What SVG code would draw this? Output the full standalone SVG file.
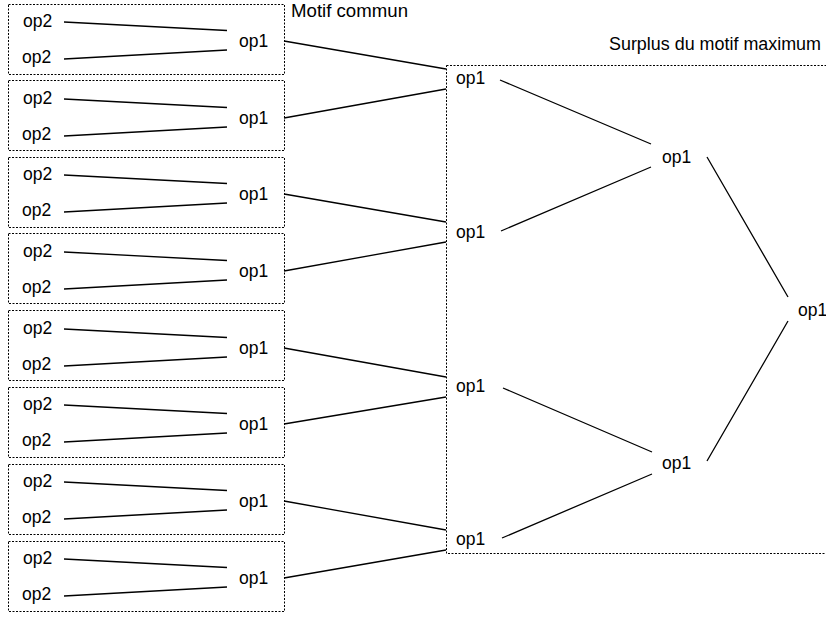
<svg xmlns="http://www.w3.org/2000/svg" width="826" height="617" viewBox="0 0 826 617">
  <style>
    text { font-family: "Liberation Sans", Arial, sans-serif; font-size: 17.5px; fill: #000; }
    .cluster { fill: none; stroke: #000; stroke-width: 1; stroke-dasharray: 2 1.5; }
    .edge { stroke: #000; stroke-width: 1.3; fill: none; }
  </style>
  <rect x="0" y="0" width="826" height="617" fill="#fff"/>

  <!-- dashed frames -->
  <g id="clusters">
    <rect class="cluster" x="8.5" y="4.5" width="276" height="70"/>
    <rect class="cluster" x="8.5" y="80.5" width="276" height="70"/>
    <rect class="cluster" x="8.5" y="157.5" width="276" height="70"/>
    <rect class="cluster" x="8.5" y="233.5" width="276" height="70"/>
    <rect class="cluster" x="8.5" y="310.5" width="276" height="70"/>
    <rect class="cluster" x="8.5" y="387.5" width="276" height="70"/>
    <rect class="cluster" x="8.5" y="464.5" width="276" height="70"/>
    <rect class="cluster" x="8.5" y="541.5" width="276" height="70"/>
    <rect class="cluster" x="446.5" y="65.5" width="400" height="488"/>
  </g>
  <g id="cluster-labels">
    <text x="291" y="17" textLength="117" lengthAdjust="spacingAndGlyphs">Motif commun</text>
    <text x="609" y="50" textLength="212" lengthAdjust="spacingAndGlyphs">Surplus du motif maximum</text>
  </g>

  <!-- connectors -->
  <g id="edges">
    <!-- op2 -> op1 inside each frame -->
    <path class="edge" d="M64 22 L227 30.5 M64 59 L227 50"/>
    <path class="edge" d="M64 99 L227 107.5 M64 136 L227 127"/>
    <path class="edge" d="M64 175 L227 183.5 M64 212 L227 203"/>
    <path class="edge" d="M64 252 L227 260.5 M64 289 L227 280"/>
    <path class="edge" d="M64 329 L227 337.5 M64 366 L227 357"/>
    <path class="edge" d="M64 405 L227 413.5 M64 442 L227 433"/>
    <path class="edge" d="M64 482 L227 490.5 M64 519 L227 510"/>
    <path class="edge" d="M64 559 L227 567.5 M64 596 L227 587"/>
    <!-- frame op1 -> middle op1 -->
    <path class="edge" d="M284 41 L446 69 M284 118 L446 89"/>
    <path class="edge" d="M284 194 L446 222 M284 271 L446 242"/>
    <path class="edge" d="M284 348 L446 377 M284 424 L446 397"/>
    <path class="edge" d="M284 501 L446 530 M284 578 L446 550"/>
    <!-- middle op1 -> second level op1 -->
    <path class="edge" d="M500 80 L651 144 M501 231 L651 167"/>
    <path class="edge" d="M503 388 L652 452 M502 538 L652 474"/>
    <!-- second level -> root -->
    <path class="edge" d="M707 157 L788 297 M707 461 L788 321"/>
  </g>

  <!-- frame nodes -->
  <g id="f1-a"><text x="23" y="27">op2</text></g>
  <g id="f1-b"><text x="22" y="63">op2</text></g>
  <g id="f1-op1"><text x="239" y="47">op1</text></g>
  <g id="f2-a"><text x="23" y="104">op2</text></g>
  <g id="f2-b"><text x="22" y="140">op2</text></g>
  <g id="f2-op1"><text x="239" y="124">op1</text></g>
  <g id="f3-a"><text x="23" y="180">op2</text></g>
  <g id="f3-b"><text x="22" y="216">op2</text></g>
  <g id="f3-op1"><text x="239" y="200">op1</text></g>
  <g id="f4-a"><text x="23" y="257">op2</text></g>
  <g id="f4-b"><text x="22" y="293">op2</text></g>
  <g id="f4-op1"><text x="239" y="277">op1</text></g>
  <g id="f5-a"><text x="23" y="334">op2</text></g>
  <g id="f5-b"><text x="22" y="370">op2</text></g>
  <g id="f5-op1"><text x="239" y="354">op1</text></g>
  <g id="f6-a"><text x="23" y="410">op2</text></g>
  <g id="f6-b"><text x="22" y="446">op2</text></g>
  <g id="f6-op1"><text x="239" y="430">op1</text></g>
  <g id="f7-a"><text x="23" y="487">op2</text></g>
  <g id="f7-b"><text x="22" y="523">op2</text></g>
  <g id="f7-op1"><text x="239" y="507">op1</text></g>
  <g id="f8-a"><text x="23" y="564">op2</text></g>
  <g id="f8-b"><text x="22" y="600">op2</text></g>
  <g id="f8-op1"><text x="239" y="584">op1</text></g>

  <!-- middle level -->
  <g id="m1"><text x="456" y="84">op1</text></g>
  <g id="m2"><text x="456" y="238">op1</text></g>
  <g id="m3"><text x="456" y="392">op1</text></g>
  <g id="m4"><text x="456" y="545">op1</text></g>

  <!-- second level -->
  <g id="s1"><text x="662" y="163">op1</text></g>
  <g id="s2"><text x="662" y="469">op1</text></g>

  <!-- root -->
  <g id="root"><text x="798" y="316">op1</text></g>
</svg>
